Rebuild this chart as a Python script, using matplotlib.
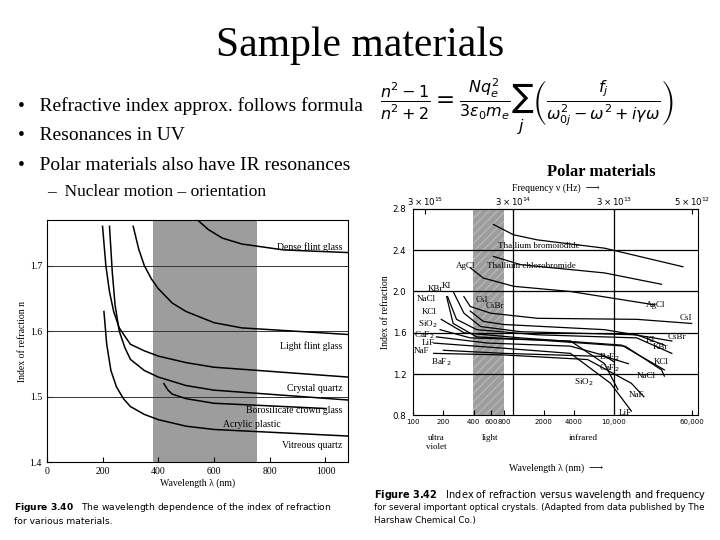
import matplotlib
matplotlib.use("Agg")
import matplotlib.pyplot as plt
from matplotlib.ticker import FixedLocator, NullLocator

# ---- left chart data (wavelength nm, index) ----
left_curves = {
    "Dense flint glass": ([540, 580, 630, 700, 850, 1080], [1.77, 1.755, 1.742, 1.733, 1.724, 1.72]),
    "Light flint glass": ([310, 330, 350, 375, 400, 450, 500, 600, 700, 1080],
                          [1.76, 1.725, 1.70, 1.68, 1.665, 1.643, 1.63, 1.613, 1.605, 1.595]),
    "Crystal quartz": ([200, 212, 225, 240, 260, 300, 350, 400, 500, 600, 1080],
                       [1.76, 1.70, 1.66, 1.63, 1.605, 1.58, 1.57, 1.562, 1.552, 1.545, 1.53]),
    "Borosilicate crown glass": ([225, 235, 245, 260, 280, 300, 350, 400, 500, 600, 1080],
                                 [1.76, 1.69, 1.64, 1.60, 1.575, 1.557, 1.54, 1.53, 1.517, 1.51, 1.495]),
    "Acrylic plastic": ([420, 435, 450, 500, 600, 1000], [1.52, 1.51, 1.504, 1.497, 1.49, 1.482]),
    "Vitreous quartz": ([205, 215, 230, 250, 275, 300, 350, 400, 500, 600, 1080],
                        [1.63, 1.58, 1.54, 1.515, 1.497, 1.485, 1.473, 1.465, 1.455, 1.45, 1.44]),
}
left_label_pos = {
    "Dense flint glass": (1060, 1.735), "Light flint glass": (1060, 1.585),
    "Crystal quartz": (1060, 1.52), "Borosilicate crown glass": (1060, 1.486),
    "Acrylic plastic": (840, 1.465), "Vitreous quartz": (1060, 1.432),
}
left_xticks = [0, 200, 400, 600, 800, 1000]
left_yticks = [1.4, 1.5, 1.6, 1.7]
left_band = (380, 755)

# ---- right chart data ----
right_curves = {
    "Thallium bromoiodide": ([630, 1000, 1740, 8100, 49000], [2.65, 2.55, 2.50, 2.42, 2.24]),
    "Thallium chlorobromide": ([630, 1180, 8100, 30000], [2.34, 2.26, 2.18, 2.07]),
    "AgCl": ([370, 500, 1010, 3700, 25800], [2.23, 2.13, 2.05, 2.0, 1.87]),
    "CsI": ([320, 370, 590, 1740, 17000, 60000], [1.95, 1.855, 1.79, 1.74, 1.73, 1.69]),
    "CsBr": ([370, 500, 800, 8100, 38000], [1.81, 1.71, 1.68, 1.63, 1.52]),
    "KI": ([250, 320, 470, 1180, 17000, 32000], [2.0, 1.79, 1.66, 1.61, 1.58, 1.48]),
    "KBr": ([220, 270, 430, 1740, 17000, 38000], [1.95, 1.73, 1.63, 1.58, 1.55, 1.40]),
    "NaCl": ([215, 250, 430, 1740, 13000, 30000, 32000], [1.95, 1.69, 1.56, 1.53, 1.47, 1.24, 1.18]),
    "KCl": ([190, 320, 1180, 12000, 32000], [1.73, 1.60, 1.55, 1.48, 1.24]),
    "SiO$_2$": ([185, 370, 3700, 8100, 11000], [1.63, 1.55, 1.52, 1.30, 1.05]),
    "CaF$_2$": ([170, 550, 3700, 8000, 10000], [1.56, 1.50, 1.47, 1.38, 1.32]),
    "LiF": ([160, 800, 3700, 9300, 15000], [1.50, 1.45, 1.40, 1.11, 0.84]),
    "NaF": ([160, 800, 5500, 15000, 20000], [1.40, 1.385, 1.34, 1.11, 0.98]),
    "BaF$_2$": ([200, 800, 8100, 14000], [1.43, 1.40, 1.37, 1.30]),
}
right_labels = [
    ("Thallium bromoiodide", 1800, 2.44), ("Thallium chlorobromide", 1500, 2.25),
    ("AgCl", 330, 2.25), ("KBr", 165, 2.02), ("KI", 215, 2.05), ("NaCl", 135, 1.93),
    ("CsI", 480, 1.92), ("CsBr", 650, 1.86), ("KCl", 145, 1.80), ("SiO$_2$", 138, 1.68),
    ("CaF$_2$", 128, 1.58), ("LiF", 140, 1.50), ("NaF", 120, 1.42), ("BaF$_2$", 190, 1.31),
    ("AgCl", 26000, 1.87), ("CsI", 52000, 1.74), ("KI", 23000, 1.53), ("CsBr", 43000, 1.56),
    ("KBr", 29000, 1.46), ("KCl", 30000, 1.32), ("NaCl", 21000, 1.18), ("NaF", 17000, 1.00),
    ("LiF", 13000, 0.82), ("SiO$_2$", 5000, 1.12), ("CaF$_2$", 9000, 1.26), ("BaF$_2$", 9000, 1.36),
]
right_xticks = [100, 200, 400, 600, 800, 2000, 4000, 10000, 60000]
right_xticklabels = ["100", "200", "400", "600", "800", "2000", "4000", "10,000", "60,000"]
right_yticks = [0.8, 1.2, 1.6, 2.0, 2.4, 2.8]
freq_pos = [130, 1000, 10000, 60000]
freq_labels = [r"$3\times10^{15}$", r"$3\times10^{14}$", r"$3\times10^{13}$", r"$5\times10^{12}$"]
right_band = (390, 800)

serif = ["Liberation Serif", "DejaVu Serif"]
fig = plt.figure(figsize=(7.2, 5.4), dpi=100)

# slide text
fig.text(0.5, 0.915, "Sample materials", ha="center", va="center", fontsize=30, family=serif)
bul = ["Refractive index approx. follows formula", "Resonances in UV",
       "Polar materials also have IR resonances"]
for i, t in enumerate(bul):
    fig.text(0.025, 1 - (106 + 30 * i) / 540, "•   " + t, fontsize=14, va="center", family=serif)
fig.text(0.065, 1 - 192 / 540, "–  Nuclear motion – orientation", fontsize=12.5, va="center", family=serif)
fig.text(0.528, 1 - 106 / 540,
         r"$\frac{n^2-1}{n^2+2}=\frac{Nq_e^2}{3\varepsilon_0 m_e}\sum_j\left(\frac{f_j}{\omega_{0j}^2-\omega^2+i\gamma\omega}\right)$",
         fontsize=16.5, va="center", ha="left")
fig.text(0.835, 1 - 172 / 540, "Polar materials", fontsize=12, weight="bold", ha="center", va="center", family=serif)

# left chart
ax = fig.add_axes([0.065, 0.144, 0.418, 0.449])
ax.axvspan(*left_band, color="#8c8c8c", alpha=0.85, lw=0)
for y in [1.5, 1.6, 1.7]:
    ax.axhline(y, color="#333", lw=0.7)
for name, (x, y) in left_curves.items():
    ax.plot(x, y, color="black", lw=1.1)
    lx, ly = left_label_pos[name]
    ax.text(lx, ly, name, ha="right", va="top", fontsize=7, family=serif)
ax.set_xlim(0, 1080)
ax.set_ylim(1.40, 1.77)
ax.set_xticks(left_xticks)
ax.set_yticks(left_yticks)
ax.tick_params(labelsize=7, direction="in")
for lab in ax.get_xticklabels() + ax.get_yticklabels():
    lab.set_family(serif)
ax.set_xlabel("Wavelength λ (nm)", fontsize=7, family=serif, labelpad=2)
ax.set_ylabel("Index of refraction n", fontsize=7, family=serif, labelpad=2)
fig.text(0.02, 1 - 508 / 540, r"$\bf{Figure\ 3.40}$   The wavelength dependence of the index of refraction", fontsize=6.6, va="center")
fig.text(0.02, 1 - 521 / 540, "for various materials.", fontsize=6.6, va="center")

# right chart
ax2 = fig.add_axes([0.574, 0.231, 0.396, 0.382])
ax2.set_xscale("log")
ax2.axvspan(*right_band, color="#8c8c8c", alpha=0.85, lw=0, hatch="////", ec="#bbbbbb")
for y in [1.2, 1.6, 2.0, 2.4]:
    ax2.axhline(y, color="black", lw=0.9)
for x in [1000, 10000]:
    ax2.axvline(x, color="black", lw=0.9)
for name, (x, y) in right_curves.items():
    ax2.plot(x, y, color="black", lw=0.9)
for name, x, y in right_labels:
    ax2.text(x, y, name, fontsize=6.5, ha="center", va="center", family=serif)
ax2.set_xlim(100, 70000)
ax2.set_ylim(0.8, 2.8)
ax2.xaxis.set_major_locator(FixedLocator(right_xticks))
ax2.xaxis.set_minor_locator(NullLocator())
ax2.set_xticklabels(right_xticklabels)
ax2.set_yticks(right_yticks)
ax2.tick_params(axis="y", labelsize=6.2, direction="in", pad=5)
ax2.tick_params(axis="x", labelsize=5.0, direction="in", pad=3)
ax2.set_ylabel("Index of refraction", fontsize=7, family=serif, labelpad=2)
for xx, tt in [(170, "ultra\nviolet"), (590, "light"), (5000, "infrared")]:
    ax2.text(xx, -0.09, tt, transform=ax2.get_xaxis_transform(), ha="center", va="top", fontsize=6.5, family=serif)
ax2.text(0.5, -0.27, "Wavelength λ (nm)  ⟶", transform=ax2.transAxes, ha="center", fontsize=7, family=serif)
top = ax2.secondary_xaxis("top")
top.xaxis.set_major_locator(FixedLocator(freq_pos))
top.xaxis.set_minor_locator(NullLocator())
top.set_xticklabels(freq_labels)
top.tick_params(labelsize=6.2, direction="in", pad=1)
ax2.text(0.5, 1.09, "Frequency ν (Hz)  ⟶", transform=ax2.transAxes, ha="center", fontsize=7, family=serif)
fig.text(0.52, 1 - 495 / 540, r"$\bf{Figure\ 3.42}$   Index of refraction versus wavelength and frequency", fontsize=7, va="center")
fig.text(0.52, 1 - 508 / 540, "for several important optical crystals. (Adapted from data published by The", fontsize=6.3, va="center")
fig.text(0.52, 1 - 521 / 540, "Harshaw Chemical Co.)", fontsize=6.3, va="center")

fig.savefig("out.png", dpi=100)
